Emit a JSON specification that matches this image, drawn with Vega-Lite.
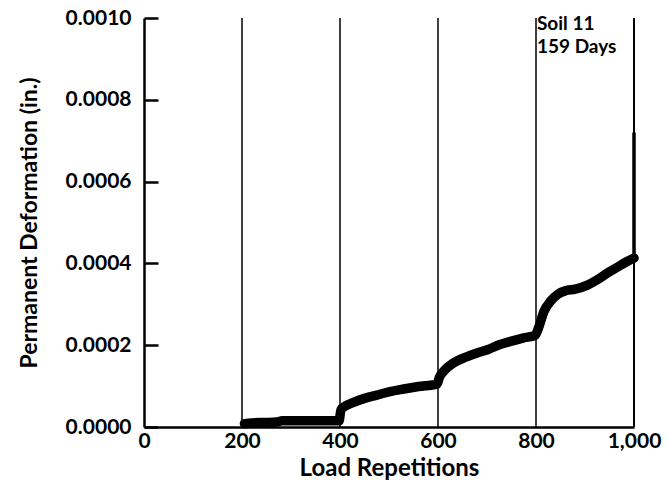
{
  "$schema": "https://vega.github.io/schema/vega-lite/v6.json",
  "width": 490,
  "height": 409,
  "autosize": "none",
  "padding": {"left": 144, "top": 18, "right": 34, "bottom": 68},
  "background": "white",
  "config": {"view": {"stroke": null}, "font": "Lato"},
  "datasets": {
    "curve": [
      {"rep": 205, "def": 0.000008},
      {"rep": 220, "def": 0.00001},
      {"rep": 245, "def": 0.000011},
      {"rep": 270, "def": 0.000012},
      {"rep": 282, "def": 0.000015},
      {"rep": 320, "def": 0.000015},
      {"rep": 360, "def": 0.000015},
      {"rep": 398, "def": 0.000015},
      {"rep": 402, "def": 0.000042},
      {"rep": 412, "def": 0.000052},
      {"rep": 425, "def": 0.000059},
      {"rep": 450, "def": 0.00007},
      {"rep": 475, "def": 0.000078},
      {"rep": 500, "def": 0.000086},
      {"rep": 530, "def": 0.000093},
      {"rep": 560, "def": 0.000099},
      {"rep": 598, "def": 0.000105},
      {"rep": 603, "def": 0.000122},
      {"rep": 612, "def": 0.000137},
      {"rep": 632, "def": 0.000157},
      {"rep": 655, "def": 0.00017},
      {"rep": 680, "def": 0.000181},
      {"rep": 701, "def": 0.000189},
      {"rep": 725, "def": 0.000201},
      {"rep": 750, "def": 0.00021},
      {"rep": 775, "def": 0.000218},
      {"rep": 798, "def": 0.000224},
      {"rep": 806, "def": 0.000245},
      {"rep": 816, "def": 0.000282},
      {"rep": 830, "def": 0.000308},
      {"rep": 845, "def": 0.000325},
      {"rep": 860, "def": 0.000333},
      {"rep": 880, "def": 0.000337},
      {"rep": 905, "def": 0.000347},
      {"rep": 925, "def": 0.00036},
      {"rep": 945, "def": 0.000376},
      {"rep": 965, "def": 0.00039},
      {"rep": 985, "def": 0.000404},
      {"rep": 1000, "def": 0.000413}
    ],
    "dividers": [
      {"rep": 200, "w": 1.5},
      {"rep": 400, "w": 1.5},
      {"rep": 600, "w": 1.5},
      {"rep": 800, "w": 1.5},
      {"rep": 1000, "w": 2}
    ],
    "spike": [{"rep": 1000, "def": 0.00041, "def2": 0.00072}],
    "notes": [
      {"rep": 802, "def": 0.000986, "label": "Soil 11"},
      {"rep": 802, "def": 0.00093, "label": "159 Days"}
    ]
  },
  "encoding": {
    "x": {
      "field": "rep",
      "type": "quantitative",
      "scale": {"domain": [0, 1000], "nice": false, "zero": false},
      "axis": {
        "title": "Load Repetitions",
        "values": [0, 200, 400, 600, 800, 1000],
        "format": ",.0f",
        "ticks": false,
        "grid": false,
        "labelFlush": false,
        "labelOverlap": false,
        "labelPadding": 3,
        "labelFont": "Lato",
        "labelFontSize": 21,
        "labelFontWeight": "bold",
        "labelColor": "black",
        "domainColor": "black",
        "domainWidth": 2.5,
        "titleFont": "Lato",
        "titleFontSize": 24,
        "titleFontWeight": "bold",
        "titleColor": "black",
        "titlePadding": 5
      }
    }
  },
  "layer": [
    {
      "data": {"name": "curve"},
      "mark": {
        "type": "line",
        "color": "black",
        "strokeWidth": 9.5,
        "strokeCap": "round",
        "strokeJoin": "round",
        "interpolate": "monotone"
      },
      "encoding": {
        "y": {
          "field": "def",
          "type": "quantitative",
          "title": "Permanent Deformation (in.)",
          "scale": {"domain": [0, 0.001], "nice": false},
          "axis": {
            "title": "Permanent Deformation (in.)",
            "values": [0, 0.0002, 0.0004, 0.0006, 0.0008, 0.001],
            "format": ".4f",
            "grid": false,
            "tickSize": -14,
            "tickWidth": 2.5,
            "tickColor": "black",
            "labelPadding": 27,
            "labelFlush": false,
            "labelOverlap": false,
            "labelFont": "Lato",
            "labelFontSize": 21,
            "labelFontWeight": "bold",
            "labelColor": "black",
            "domainColor": "black",
            "domainWidth": 2.5,
            "titleFont": "Lato",
            "titleFontSize": 23,
            "titleFontWeight": "bold",
            "titleColor": "black",
            "titlePadding": 24
          }
        }
      }
    },
    {
      "data": {"name": "dividers"},
      "mark": {"type": "rule", "color": "black"},
      "encoding": {
        "strokeWidth": {"field": "w", "type": "quantitative", "scale": null}
      }
    },
    {
      "data": {"name": "spike"},
      "mark": {"type": "rule", "color": "black", "strokeWidth": 3.5},
      "encoding": {
        "y": {"field": "def", "type": "quantitative", "title": "Permanent Deformation (in.)"},
        "y2": {"field": "def2"}
      }
    },
    {
      "data": {"name": "notes"},
      "mark": {
        "type": "text",
        "align": "left",
        "baseline": "middle",
        "font": "Lato",
        "fontSize": 19,
        "fontWeight": "bold",
        "color": "black"
      },
      "encoding": {
        "y": {"field": "def", "type": "quantitative", "title": "Permanent Deformation (in.)"},
        "text": {"field": "label"}
      }
    }
  ]
}
